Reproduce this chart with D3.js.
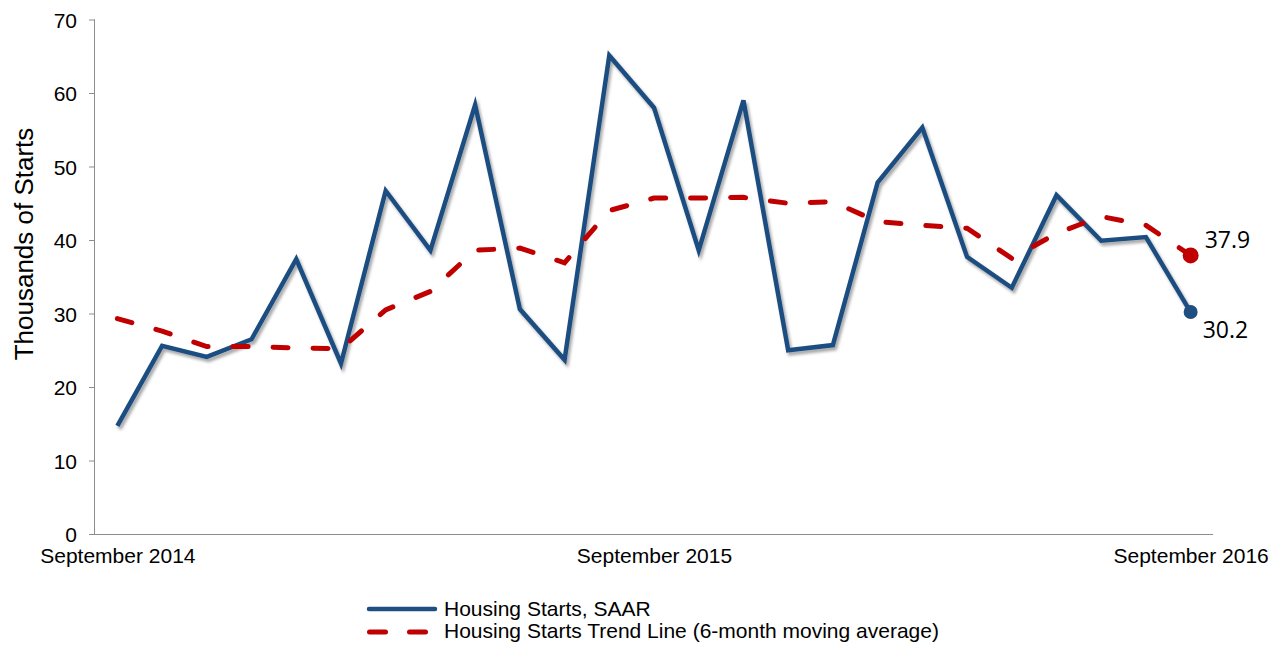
<!DOCTYPE html>
<html>
<head>
<meta charset="utf-8">
<script src="https://cdn.jsdelivr.net/npm/d3@7"></script>
<style>
  body { margin: 0; background: #fff; }
  svg text { font-family: "Liberation Sans", Arial, sans-serif; fill: #000; }
</style>
</head>
<body>
<svg id="chart" width="1284" height="648"></svg>
<script>
var months = ["September 2014", "October 2014", "November 2014", "December 2014",
  "January 2015", "February 2015", "March 2015", "April 2015", "May 2015", "June 2015",
  "July 2015", "August 2015", "September 2015", "October 2015", "November 2015",
  "December 2015", "January 2016", "February 2016", "March 2016", "April 2016",
  "May 2016", "June 2016", "July 2016", "August 2016", "September 2016"];

var starts = [14.7, 25.6, 24.1, 26.5, 37.4, 23.2, 46.7, 38.6, 58.4, 30.6, 23.7, 65.1,
  58.0, 38.6, 59.0, 25.0, 25.7, 47.8, 55.3, 37.7, 33.5, 46.1, 39.9, 40.4, 30.2];

var trend = [29.3, 27.6, 25.5, 25.5, 25.3, 25.2, 30.5, 33.0, 38.6, 38.9, 36.9, 44.0,
  45.7, 45.7, 45.8, 45.0, 45.2, 42.5, 42.0, 41.6, 37.5, 40.9, 43.2, 42.0, 37.9];

var xTickLabels = ["September 2014", "September 2015", "September 2016"];
var yTicks = [0, 10, 20, 30, 40, 50, 60, 70];

var svg = d3.select("#chart");

var plotLeft = 95, plotRight = 1213, plotTop = 19.5, plotBottom = 534;

var x = d3.scalePoint().domain(months).range([plotLeft, plotRight]).padding(0.5);
var y = d3.scaleLinear().domain([0, 70]).range([plotBottom, plotTop]);

// shadow for the blue line
var defs = svg.append("defs");
defs.append("filter").attr("id", "shadow")
  .attr("x", "-5%").attr("y", "-5%").attr("width", "110%").attr("height", "115%")
  .append("feDropShadow")
  .attr("dx", 2).attr("dy", 3).attr("stdDeviation", 1.6)
  .attr("flood-color", "#000").attr("flood-opacity", 0.35);

// y axis
var yAxis = svg.append("g")
  .attr("transform", "translate(" + plotLeft + ",0)")
  .call(d3.axisLeft(y).tickValues(yTicks).tickSize(6).tickPadding(12));
yAxis.select("path").attr("d", "M-0.5," + plotBottom + "V" + plotTop);
yAxis.selectAll("text").style("font-size", "21px").attr("dy", "0.36em");
yAxis.selectAll("line, path").attr("stroke", "#8c8c8c");

// x axis
var xAxis = svg.append("g")
  .attr("transform", "translate(0," + plotBottom + ")")
  .call(d3.axisBottom(x).tickValues(xTickLabels).tickSize(0).tickPadding(14));
xAxis.select("path").attr("d", "M" + plotLeft + ",0.5H" + plotRight).attr("stroke", "#8c8c8c");
xAxis.selectAll("text").style("font-size", "21px");

// y title
svg.append("text")
  .attr("transform", "translate(33,244) rotate(-90)")
  .attr("text-anchor", "middle")
  .style("font-size", "26px")
  .text("Thousands of Starts");

var line = d3.line()
  .x(function(d, i) { return x(months[i]); })
  .y(function(d) { return y(d); });

svg.append("path")
  .datum(starts)
  .attr("d", line)
  .attr("fill", "none")
  .attr("stroke", "#1f4e80")
  .attr("stroke-width", 4.5)
  .attr("stroke-linejoin", "miter")
  .attr("filter", "url(#shadow)");

svg.append("path")
  .datum(trend)
  .attr("d", line)
  .attr("fill", "none")
  .attr("stroke", "#c00000")
  .attr("stroke-width", 5)
  .attr("stroke-linecap", "round")
  .attr("stroke-dasharray", "15,25");

// end markers
var last = months.length - 1;
svg.append("circle")
  .attr("cx", x(months[last])).attr("cy", y(starts[last])).attr("r", 7)
  .attr("fill", "#1f4e80");
svg.append("circle")
  .attr("cx", x(months[last])).attr("cy", y(trend[last])).attr("r", 8)
  .attr("fill", "#c00000");

svg.append("text")
  .attr("x", x(months[last]) + 14).attr("y", y(trend[last]) - 7)
  .style("font-family", "'Open Sans', sans-serif").style("font-size", "23px")
  .text(trend[last].toFixed(1));
svg.append("text")
  .attr("x", x(months[last]) + 12).attr("y", y(starts[last]) + 26)
  .style("font-family", "'Open Sans', sans-serif").style("font-size", "23px")
  .text(starts[last].toFixed(1));

// legend
var legend = svg.append("g");
legend.append("line")
  .attr("x1", 369).attr("x2", 435).attr("y1", 609).attr("y2", 609)
  .attr("stroke", "#1f4e80").attr("stroke-width", 4.5).attr("stroke-linecap", "round");
legend.append("line")
  .attr("x1", 369.5).attr("x2", 426).attr("y1", 632).attr("y2", 632)
  .attr("stroke", "#c00000").attr("stroke-width", 5).attr("stroke-linecap", "round")
  .attr("stroke-dasharray", "16,24");
legend.append("text").attr("x", 444).attr("y", 616)
  .style("font-size", "21px").text("Housing Starts, SAAR");
legend.append("text").attr("x", 444).attr("y", 638)
  .style("font-size", "21px").text("Housing Starts Trend Line (6-month moving average)");
</script>
</body>
</html>
